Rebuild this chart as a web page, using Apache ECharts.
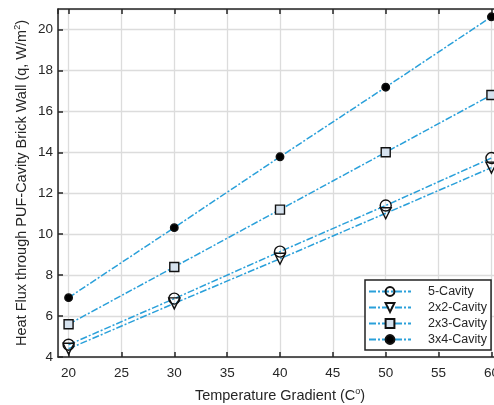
<!DOCTYPE html>
<html>
<head>
<meta charset="utf-8">
<script src="https://cdn.jsdelivr.net/npm/echarts@6/dist/echarts.min.js"></script>
<style>
  html, body { margin: 0; padding: 0; background: #fff; }
  #main { width: 494px; height: 405px; }
</style>
</head>
<body>
<div id="main"></div>
<script>
var myChart = echarts.init(document.getElementById('main'));

// temperature gradient (x)
var gradient = [20, 30, 40, 50, 60];
// heat flux values
var cavity5 = [4.6, 6.85, 9.15, 11.4, 13.72];
var cavity2x2 = [4.4, 6.62, 8.8, 11.02, 13.25];
var cavity2x3 = [5.6, 8.4, 11.2, 14.0, 16.8];
var cavity3x4 = [6.9, 10.32, 13.78, 17.18, 20.62];

var lineColor = '#2aa0da';
var dashDot = [7, 2, 2, 2];

function pairs(ys) {
  var out = [];
  for (var i = 0; i < gradient.length; i++) {
    out.push([gradient[i], ys[i]]);
  }
  return out;
}

function makeSeries(name, ys, symbol, size, fill, rotate) {
  return {
    name: name,
    type: 'line',
    data: pairs(ys),
    symbol: symbol,
    symbolSize: size,
    symbolRotate: rotate || 0,
    showAllSymbol: true,
    lineStyle: { color: lineColor, width: 1.5, type: dashDot },
    itemStyle: { color: fill, borderColor: '#111', borderWidth: 1.4 },
    emphasis: { disabled: true },
    z: 3
  };
}

var axisFont = { fontFamily: 'Liberation Sans, Arial, sans-serif', fontSize: 13.5, color: '#262626' };
var supStyle = { fontSize: 9, verticalAlign: 'top', padding: [0, 0, 8, 0], color: '#262626' };

var option = {
  animation: false,
  grid: { left: 58, right: -8, top: 9, bottom: 48, outerBoundsMode: 'none', containLabel: false },
  legend: {
    orient: 'vertical',
    left: 365,
    top: 280,
    padding: [5, 4, 4, 3],
    itemGap: 3,
    itemWidth: 42,
    itemHeight: 11,
    backgroundColor: '#fff',
    borderColor: '#222',
    borderWidth: 1.5,
    textStyle: { fontFamily: 'Liberation Sans, Arial, sans-serif', fontSize: 12.5, color: '#262626', padding: [0, 0, 0, 12] },
    data: ['5-Cavity', '2x2-Cavity', '2x3-Cavity', '3x4-Cavity']
  },
  xAxis: [{
    type: 'value',
    min: 19,
    max: 61,
    splitNumber: 8,
    name: 'Temperature Gradient (C{sup|o})',
    nameLocation: 'middle',
    nameGap: 30,
    nameMoveOverlap: false,
    nameTextStyle: {
      fontFamily: 'Liberation Sans, Arial, sans-serif', fontSize: 14.5, color: '#262626',
      rich: { sup: supStyle }
    },
    axisLine: { show: true, onZero: false, lineStyle: { color: '#262626', width: 1.5 } },
    axisTick: { inside: true, length: 5, lineStyle: { color: '#262626', width: 1.5 } },
    axisLabel: Object.assign({ margin: 9, showMinLabel: false, showMaxLabel: false }, axisFont),
    splitLine: { show: true, lineStyle: { color: '#dcdcdc', width: 1.3 } }
  }, {
    type: 'value',
    position: 'top',
    min: 19,
    max: 61,
    splitNumber: 8,
    axisLine: { show: true, onZero: false, lineStyle: { color: '#262626', width: 1.5 } },
    axisTick: { inside: true, length: 5, lineStyle: { color: '#262626', width: 1.5 } },
    axisLabel: { show: false },
    splitLine: { show: false }
  }],
  yAxis: {
    type: 'value',
    min: 4,
    max: 21,
    splitNumber: 9,
    name: 'Heat Flux through PUF-Cavity Brick Wall (q, W/m{sup|2})',
    nameLocation: 'middle',
    nameGap: 28,
    nameMoveOverlap: false,
    nameTextStyle: {
      fontFamily: 'Liberation Sans, Arial, sans-serif', fontSize: 14.5, color: '#262626',
      rich: { sup: supStyle }
    },
    axisLine: { show: true, onZero: false, lineStyle: { color: '#262626', width: 1.5 } },
    axisTick: { inside: true, length: 5, lineStyle: { color: '#262626', width: 1.5 } },
    axisLabel: Object.assign({ margin: 5, showMaxLabel: false }, axisFont),
    splitLine: { show: true, lineStyle: { color: '#dcdcdc', width: 1.3 } }
  },
  series: [
    makeSeries('5-Cavity', cavity5, 'circle', 11, 'rgba(255,255,255,0)'),
    makeSeries('2x2-Cavity', cavity2x2, 'triangle', 11, 'rgba(255,255,255,0)', 180),
    makeSeries('2x3-Cavity', cavity2x3, 'rect', 9, '#d6e2ee'),
    makeSeries('3x4-Cavity', cavity3x4, 'circle', 7.5, '#000')
  ]
};
myChart.setOption(option);
</script>
</body>
</html>
